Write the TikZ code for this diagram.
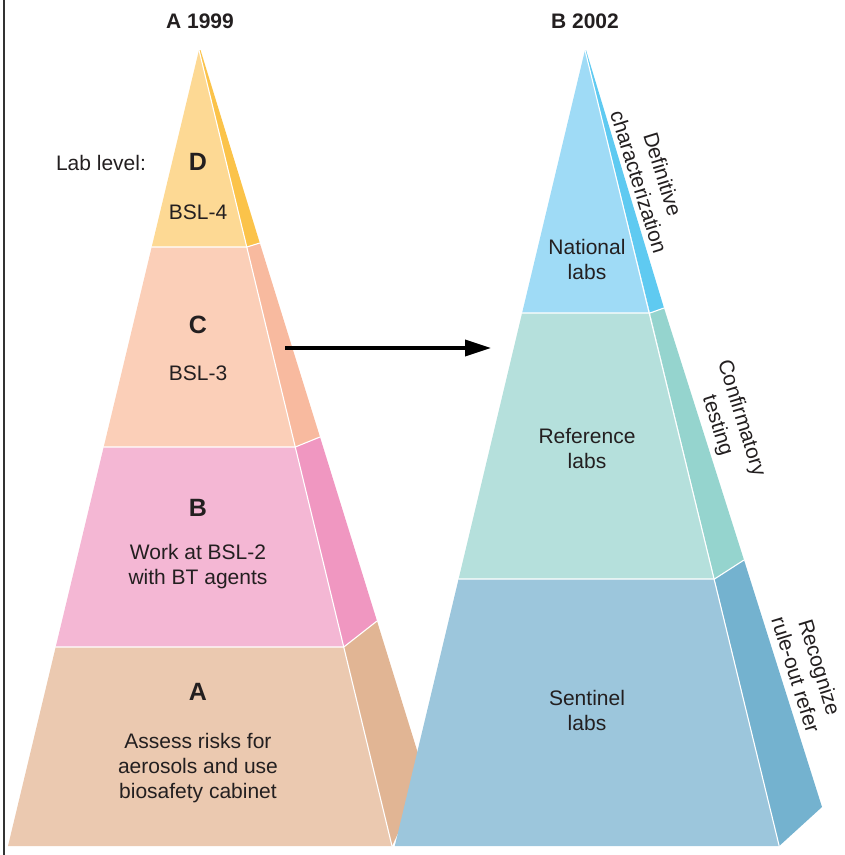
\documentclass[tikz,border=0pt]{standalone}
\usepackage{fontspec}
\setmainfont{Liberation Sans}
\usetikzlibrary{arrows.meta}
\definecolor{txt}{HTML}{231F20}
\definecolor{dF}{HTML}{FDD994}\definecolor{dS}{HTML}{FBC34A}
\definecolor{cF}{HTML}{FBCFB8}\definecolor{cS}{HTML}{F8BA9F}
\definecolor{bF}{HTML}{F4B7D4}\definecolor{bS}{HTML}{F097C1}
\definecolor{aF}{HTML}{EBC9B0}\definecolor{aS}{HTML}{E1B594}
\definecolor{nF}{HTML}{9FDBF6}\definecolor{nS}{HTML}{5FCAF1}
\definecolor{rF}{HTML}{B5E0DC}\definecolor{rS}{HTML}{95D4CE}
\definecolor{sF}{HTML}{9CC6DC}\definecolor{sS}{HTML}{74B2CF}
\tikzset{
  sep/.style={draw=white,line width=1.1pt,line cap=round},
  body/.style={text=txt,inner sep=0pt,align=center,font=\fontsize{21}{25}\selectfont},
  letter/.style={text=txt,inner sep=0pt,font=\bfseries\fontsize{25}{28}\selectfont},
  hdr/.style={text=txt,inner sep=0pt,font=\bfseries\fontsize{21}{25}\selectfont},
  rot/.style={body,rotate=-72.8},
}
\begin{document}
\begin{tikzpicture}[x=1pt,y=-1pt]
\useasboundingbox (0,0) rectangle (845,855);
% frame line
\coordinate (fl1) at (4,0); \coordinate (fl2) at (4,855);
\draw[line width=1.4pt,draw=black!80] (fl1) -- (fl2);
% ---------- left pyramid ----------
\coordinate (LA) at (199,50); \coordinate (LA2) at (200.5,50);
\coordinate (L1l) at (151.7,247); \coordinate (L1r) at (246.8,247); \coordinate (L1o) at (259.8,243);
\coordinate (L2l) at (103.7,447); \coordinate (L2r) at (295.3,447); \coordinate (L2o) at (320,437);
\coordinate (L3l) at (55.7,647);  \coordinate (L3r) at (343.8,647); \coordinate (L3o) at (377,621);
\coordinate (L4l) at (8,846);     \coordinate (L4r) at (392,846);   \coordinate (L4o) at (425,776);
\fill[dS] (LA) -- (L1r) -- (L1o) -- (LA2) -- cycle;
\fill[cS] (L1r) -- (L1o) -- (L2o) -- (L2r) -- cycle;
\fill[bS] (L2r) -- (L2o) -- (L3o) -- (L3r) -- cycle;
\fill[aS] (L3r) -- (L3o) -- (L4o) -- (L4r) -- cycle;
\fill[dF] (LA) -- (L1r) -- (L1l) -- cycle;
\fill[cF] (L1l) -- (L1r) -- (L2r) -- (L2l) -- cycle;
\fill[bF] (L2l) -- (L2r) -- (L3r) -- (L3l) -- cycle;
\fill[aF] (L3l) -- (L3r) -- (L4r) -- (L4l) -- cycle;
\draw[sep] (LA) -- (L4r);
\draw[sep] (L1l) -- (L1r) -- (L1o);
\draw[sep] (L2l) -- (L2r) -- (L2o);
\draw[sep] (L3l) -- (L3r) -- (L3o);
% ---------- right pyramid ----------
\coordinate (RA) at (585,50); \coordinate (RA2) at (586,50);
\coordinate (R1l) at (522.1,313); \coordinate (R1r) at (650,313); \coordinate (R1o) at (664,308);
\coordinate (R2l) at (458.6,579); \coordinate (R2r) at (714.5,579); \coordinate (R2o) at (744,560);
\coordinate (R3l) at (394.8,846); \coordinate (R3r) at (779.2,846); \coordinate (R3o) at (822,807);
\fill[nS] (RA) -- (R1r) -- (R1o) -- (RA2) -- cycle;
\fill[rS] (R1r) -- (R1o) -- (R2o) -- (R2r) -- cycle;
\fill[sS] (R2r) -- (R2o) -- (R3o) -- (R3r) -- cycle;
\fill[nF] (RA) -- (R1r) -- (R1l) -- cycle;
\fill[rF] (R1l) -- (R1r) -- (R2r) -- (R2l) -- cycle;
\fill[sF] (R2l) -- (R2r) -- (R3r) -- (R3l) -- cycle;
\draw[sep] (RA) -- (R3r);
\draw[sep] (R1l) -- (R1r) -- (R1o);
\draw[sep] (R2l) -- (R2r) -- (R2o);
% ---------- texts ----------
\node[hdr] (hA) at (200,21) {A 1999};
\node[hdr] (hB) at (585,21) {B 2002};
\node[body] (lab) at (101,163) {Lab level:};
\node[letter] (D) at (198,162) {D};
\node[body] (bsl4) at (198,212) {BSL-4};
\node[letter] (C) at (198,325) {C};
\node[body] (bsl3) at (198,373) {BSL-3};
\node[letter] (B) at (198,508) {B};
\node[body] (bsl2) at (198,567) {Work at BSL-2\\with BT agents};
\node[letter] (A) at (198,692) {A};
\node[body] (ass) at (198,768) {Assess risks for\\aerosols and use\\biosafety cabinet};
\node[body] (nat) at (587,259) {National\\labs};
\node[body] (ref) at (587,448) {Reference\\labs};
\node[body] (sen) at (587,710) {Sentinel\\labs};
\node[rot] (def) at (651,178) {Definitive\\characterization};
\node[rot] (conf) at (729,422) {Confirmatory\\testing};
\node[rot] (rec) at (808,671) {Recognize\\rule-out refer};
% ---------- arrow ----------
\coordinate (arS) at (285,348); \coordinate (arE) at (491,348);
\draw[line width=3.5pt,-{Triangle[length=26pt,width=16pt]}] (arS) -- (arE);
\end{tikzpicture}
\end{document}
